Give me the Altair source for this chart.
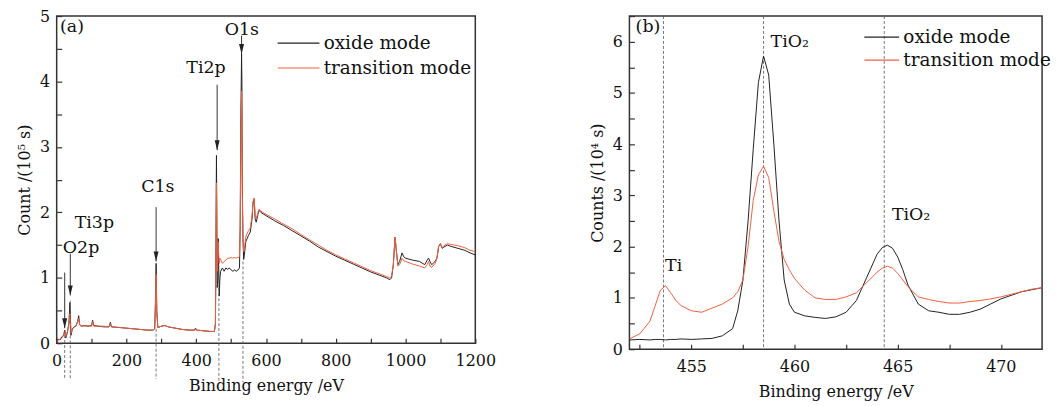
import altair as alt
import pandas as pd

FONT = "DejaVu Serif"
BLACK = "#222222"
RED = "#f2603f"
FRAME = "#333333"

series_names = ["oxide mode", "transition mode"]

# ---------------- panel (a): survey spectrum, counts in 10^5 s ----------------
survey_x = [0, 5, 10, 15, 20, 23, 26, 30, 35, 38, 41, 45, 50, 55, 60, 63, 66, 70, 80, 90,
            100, 103, 106, 120, 135, 150, 154, 157, 180, 200, 220, 240, 260, 276, 281, 283, 285, 287, 290, 300,
            310, 320, 340, 360, 380, 395, 398, 401, 420, 440, 452, 455, 456, 457, 458, 459, 460, 461, 462, 463,
            464, 466, 468, 470, 475, 480, 485, 490, 495, 500, 505, 510, 515, 520, 524, 526, 528, 530, 531, 532,
            534, 536, 538, 542, 546, 550, 555, 560, 563, 566, 569, 572, 576, 580, 585, 600, 625, 650, 675, 700,
            725, 750, 775, 800, 825, 850, 875, 900, 925, 945, 955, 960, 965, 970, 973, 978, 983, 990, 995, 1000,
            1020, 1040, 1055, 1062, 1066, 1070, 1075, 1085, 1090, 1095, 1100, 1105, 1110, 1120, 1130, 1150, 1170, 1185, 1200]
survey_oxide = [0.03, 0.06, 0.05, 0.10, 0.12, 0.20, 0.08, 0.15, 0.30, 0.62, 0.12, 0.22, 0.25, 0.26, 0.33, 0.42, 0.28, 0.26, 0.27, 0.26,
                0.27, 0.35, 0.27, 0.26, 0.25, 0.25, 0.32, 0.25, 0.24, 0.23, 0.22, 0.21, 0.20, 0.20, 0.22, 0.60, 1.22, 0.50, 0.24, 0.26,
                0.27, 0.25, 0.23, 0.21, 0.20, 0.20, 0.23, 0.20, 0.19, 0.18, 0.18, 0.30, 1.00, 2.00, 2.87, 2.00, 0.85, 0.90, 1.00, 1.60,
                1.30, 0.72, 1.00, 1.10, 1.15, 1.10, 1.15, 1.13, 1.15, 1.12, 1.10, 1.12, 1.10, 1.12, 1.15, 1.80, 3.50, 4.42, 4.00, 2.50,
                1.60, 1.28, 1.35, 1.55, 1.60, 1.65, 1.70, 1.90, 2.15, 2.20, 1.90, 1.85, 1.95, 2.03, 2.00, 1.95, 1.87, 1.80, 1.72, 1.64,
                1.56, 1.47, 1.40, 1.33, 1.27, 1.21, 1.15, 1.09, 1.04, 1.00, 0.97, 1.00, 1.20, 1.62, 1.45, 1.20, 1.25, 1.38, 1.32, 1.30,
                1.27, 1.25, 1.20, 1.27, 1.30, 1.25, 1.20, 1.25, 1.30, 1.48, 1.52, 1.45, 1.47, 1.50, 1.48, 1.45, 1.42, 1.38, 1.35]
survey_transition = [0.02, 0.05, 0.06, 0.08, 0.12, 0.18, 0.10, 0.16, 0.28, 0.45, 0.15, 0.22, 0.24, 0.27, 0.32, 0.38, 0.28, 0.27, 0.26, 0.27,
                     0.26, 0.33, 0.26, 0.26, 0.26, 0.25, 0.30, 0.25, 0.24, 0.23, 0.22, 0.21, 0.20, 0.20, 0.22, 0.55, 1.05, 0.45, 0.24, 0.26,
                     0.27, 0.25, 0.23, 0.21, 0.20, 0.20, 0.22, 0.20, 0.19, 0.18, 0.18, 0.28, 0.95, 1.75, 2.45, 1.90, 1.10, 1.20, 1.35, 1.55,
                     1.40, 1.22, 1.30, 1.28, 1.22, 1.25, 1.27, 1.30, 1.30, 1.31, 1.30, 1.31, 1.30, 1.31, 1.32, 1.70, 3.10, 3.85, 3.50, 2.30,
                     1.60, 1.40, 1.45, 1.62, 1.68, 1.72, 1.76, 1.95, 2.17, 2.22, 1.95, 1.90, 1.98, 2.05, 2.02, 1.97, 1.90, 1.82, 1.75, 1.66,
                     1.58, 1.50, 1.42, 1.35, 1.29, 1.23, 1.17, 1.11, 1.06, 1.02, 1.00, 1.02, 1.20, 1.62, 1.45, 1.18, 1.20, 1.30, 1.26, 1.25,
                     1.21, 1.18, 1.15, 1.20, 1.25, 1.18, 1.16, 1.22, 1.30, 1.48, 1.52, 1.46, 1.49, 1.52, 1.51, 1.49, 1.46, 1.42, 1.40]

a_arrow_x = [23, 39, 285, 460, 530]
a_arrow_top = [1.08, 1.37, 2.08, 3.95, 4.70]
a_arrow_tip = [0.23, 0.73, 1.25, 2.95, 4.42]
a_guide_x = [23, 39, 285, 465, 534]
a_guide_top = [0.20, 0.65, 0.22, 0.84, 1.25]
a_guide_bottom = [-0.55, -0.55, -0.55, -0.6, -0.6]
a_labels = ["O2p", "Ti3p", "C1s", "Ti2p", "O1s", "(a)"]
a_label_x = [70, 108, 290, 428, 531, 44]
a_label_y = [1.46, 1.84, 2.39, 4.20, 4.78, 4.84]

# ---------------- panel (b): Ti 2p high resolution, counts in 10^4 s ----------------
ti_x = [452, 452.5, 453, 453.25, 453.5, 453.75, 454, 454.25, 454.5, 455, 455.5, 456, 456.5, 457, 457.25,
        457.5, 457.75, 458, 458.25, 458.5, 458.75, 459, 459.25, 459.5, 459.75, 460, 460.5, 461, 461.5, 462,
        462.5, 463, 463.5, 464, 464.25, 464.5, 464.75, 465, 465.25, 465.5, 466, 466.5, 467, 467.5, 468,
        468.5, 469, 469.5, 470, 470.5, 471, 471.5, 472]
ti_oxide = [0.18, 0.19, 0.18, 0.19, 0.19, 0.18, 0.19, 0.19, 0.20, 0.19, 0.20, 0.21, 0.26, 0.40, 0.75,
            1.35, 2.50, 3.90, 5.20, 5.72, 5.35, 4.00, 2.50, 1.35, 0.88, 0.72, 0.65, 0.62, 0.60, 0.63,
            0.72, 0.95, 1.40, 1.85, 1.98, 2.03, 1.97, 1.80, 1.55, 1.25, 0.88, 0.75, 0.72, 0.68, 0.68,
            0.72, 0.78, 0.88, 0.98, 1.05, 1.12, 1.16, 1.20]
ti_transition = [0.20, 0.30, 0.55, 0.85, 1.15, 1.24, 1.10, 0.95, 0.85, 0.75, 0.72, 0.80, 0.88, 1.00, 1.12,
                 1.35, 2.00, 2.90, 3.40, 3.57, 3.35, 2.70, 2.10, 1.75, 1.55, 1.38, 1.15, 1.00, 0.97, 0.97,
                 1.02, 1.10, 1.30, 1.50, 1.58, 1.62, 1.58, 1.48, 1.35, 1.22, 1.02, 0.97, 0.93, 0.90, 0.90,
                 0.93, 0.95, 0.98, 1.02, 1.07, 1.12, 1.17, 1.20]

b_guide_x = [453.65, 458.5, 464.35]
b_labels = ["Ti", "TiO₂", "TiO₂"]
b_label_x = [453.73, 458.84, 464.72]
b_label_y = [1.53, 5.90, 2.53]
b_tag = ["(b)"]
b_tag_x = [452.3]
b_tag_y = [6.28]

# ---------------- tables ----------------
df_a = pd.DataFrame({
    "x": survey_x + survey_x,
    "y": survey_oxide + survey_transition,
    "series": [series_names[0]] * len(survey_x) + [series_names[1]] * len(survey_x),
})
df_b = pd.DataFrame({
    "x": ti_x + ti_x,
    "y": ti_oxide + ti_transition,
    "series": [series_names[0]] * len(ti_x) + [series_names[1]] * len(ti_x),
})
arrows_a = pd.DataFrame({"x": a_arrow_x, "y": a_arrow_top, "y2": a_arrow_tip})
guides_a = pd.DataFrame({"x": a_guide_x, "y": a_guide_top, "y2": a_guide_bottom})
labels_a = pd.DataFrame({"x": a_label_x, "y": a_label_y, "t": a_labels})
guides_b = pd.DataFrame({"x": b_guide_x})
labels_b = pd.DataFrame({"x": b_label_x, "y": b_label_y, "t": b_labels})
tag_b = pd.DataFrame({"x": b_tag_x, "y": b_tag_y, "t": b_tag})

ANN = 17.5


def panel(df, xdom, ydom, xlabels, xticks, ylabels, yticks, ytitle, legx, legy, symw, rowpad):
    xs = alt.Scale(domain=xdom, nice=False, zero=False)
    ys = alt.Scale(domain=ydom, nice=False, zero=False)
    # legend symbol: a line of length symw ending at the right edge of a 16 px symbol box
    path = "M%.3f,0L1,0" % (1 - symw / 8.0)
    color = alt.Color(
        "series:N",
        sort=series_names,
        scale=alt.Scale(domain=series_names, range=[BLACK, RED]),
        legend=alt.Legend(
            title=None, orient="none", legendX=legx, legendY=legy,
            symbolType=path, symbolSize=256, symbolStrokeWidth=1.2,
            labelFont=FONT, labelFontSize=18.5, labelColor="#111111",
            labelOffset=3, rowPadding=rowpad, padding=0,
        ),
    )
    lines = alt.Chart(df).mark_line(strokeWidth=1, clip=True).encode(
        x=alt.X("x:Q", scale=xs, axis=alt.Axis(
            title="Binding energy /eV", values=xlabels, format="d", ticks=False, domain=False, grid=False,
            labelPadding=9, titlePadding=10, labelFlush=False)),
        y=alt.Y("y:Q", scale=ys, axis=alt.Axis(
            title=ytitle, values=ylabels, format="d", ticks=False, domain=False, grid=False,
            labelPadding=7, titlePadding=7, labelFlush=False)),
        color=color,
        detail="series:N",
    )
    ticks = alt.Chart(df).mark_point(opacity=0).encode(
        x=alt.X("x:Q", scale=xs, axis=alt.Axis(
            orient="bottom", offset=-5, values=xticks, labels=False, domain=False,
            tickSize=5, tickColor=FRAME, tickWidth=1.2, grid=False, title=None)),
        y=alt.Y("y:Q", scale=ys, axis=alt.Axis(
            orient="left", offset=-5, values=yticks, labels=False, domain=False,
            tickSize=5, tickColor=FRAME, tickWidth=1.2, grid=False, title=None)),
    )
    return xs, ys, lines, ticks


# panel a
xs_a, ys_a, lines_a, ticks_a = panel(
    df_a, [0, 1200], [0, 5], [0, 200, 400, 600, 800, 1000, 1200], list(range(0, 1201, 100)),
    [0, 1, 2, 3, 4, 5], [i * 0.5 for i in range(11)], "Count /(10⁵ s)", 247, 18, 42, 6)

guide_a = alt.Chart(guides_a).mark_rule(strokeDash=[3, 2], strokeWidth=0.8, color="#555555").encode(
    x=alt.X("x:Q", scale=xs_a, axis=None), y=alt.Y("y:Q", scale=ys_a, axis=None), y2="y2:Q")
arrow_a = alt.Chart(arrows_a).mark_rule(strokeWidth=1, color="#333333").encode(
    x=alt.X("x:Q", scale=xs_a, axis=None), y=alt.Y("y:Q", scale=ys_a, axis=None), y2="y2:Q")
head_a = alt.Chart(arrows_a).mark_point(
    shape="M-0.5,-1L0.5,-1L0,1Z", filled=True, size=100, color="#222222", opacity=1, yOffset=-5
).encode(x=alt.X("x:Q", scale=xs_a, axis=None), y=alt.Y("y2:Q", scale=ys_a, axis=None))
text_a = alt.Chart(labels_a).mark_text(font=FONT, fontSize=ANN, color="#111111", align="center",
                                        baseline="middle").encode(
    x=alt.X("x:Q", scale=xs_a, axis=None), y=alt.Y("y:Q", scale=ys_a, axis=None), text="t:N")

left = alt.layer(lines_a, ticks_a, guide_a, arrow_a, head_a, text_a).resolve_axis(
    x="independent", y="independent").properties(width=421, height=329)

# panel b
xs_b, ys_b, lines_b, ticks_b = panel(
    df_b, [452, 472], [0, 6.5], [455, 460, 465, 470], [452.5 + 2.5 * i for i in range(8)],
    [0, 1, 2, 3, 4, 5, 6], [i * 0.5 for i in range(14)], "Counts /(10⁴ s)", 254, 12, 35, 4)

guide_b = alt.Chart(guides_b).mark_rule(strokeDash=[3, 2], strokeWidth=0.8, color="#555555").encode(
    x=alt.X("x:Q", scale=xs_b, axis=None))
text_b = alt.Chart(labels_b).mark_text(font=FONT, fontSize=ANN, color="#111111", align="left",
                                        baseline="alphabetic").encode(
    x=alt.X("x:Q", scale=xs_b, axis=None), y=alt.Y("y:Q", scale=ys_b, axis=None), text="t:N")
tagb = alt.Chart(tag_b).mark_text(font=FONT, fontSize=ANN, color="#111111", align="left",
                                   baseline="middle").encode(
    x=alt.X("x:Q", scale=xs_b, axis=None), y=alt.Y("y:Q", scale=ys_b, axis=None), text="t:N")

right = alt.layer(guide_b, lines_b, ticks_b, text_b, tagb).resolve_axis(
    x="independent", y="independent").properties(width=415, height=335)

chart = alt.hconcat(left, right, spacing=155, bounds="flush").resolve_scale(
    color="independent").resolve_legend(color="independent").properties(
    padding={"left": 16, "top": 6, "right": 5, "bottom": 5}, background="white"
).configure_view(stroke=FRAME, strokeWidth=1.5).configure_axis(
    labelFont=FONT, labelFontSize=16, labelColor="#111111",
    titleFont=FONT, titleFontSize=16, titleFontWeight="normal", titleColor="#111111",
)

chart.save("out.html", embed_options={"renderer": "svg", "actions": False})
